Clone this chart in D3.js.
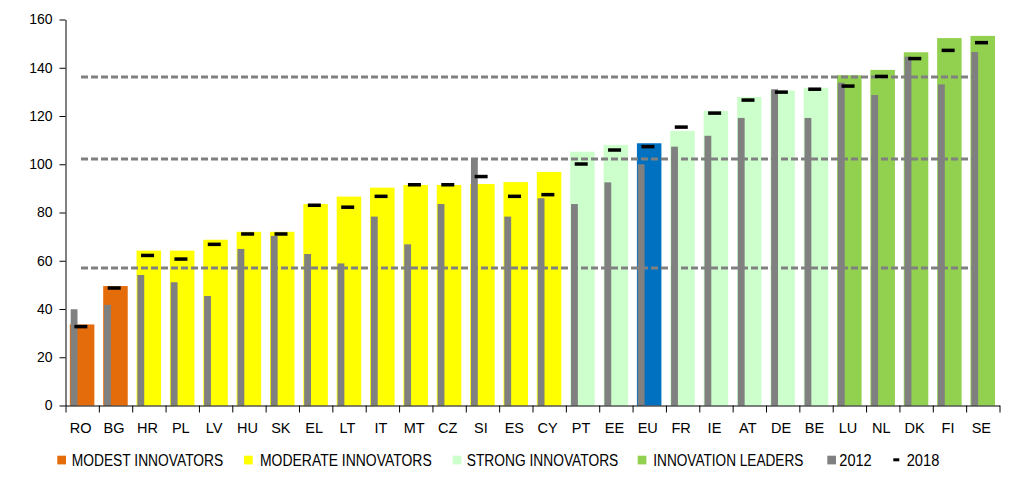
<!DOCTYPE html>
<html>
<head>
<meta charset="utf-8">
<script src="https://cdn.jsdelivr.net/npm/d3@7/dist/d3.min.js"></script>
<style>
  html, body { margin: 0; padding: 0; background: #fff; }
  svg { display: block; font-family: "Liberation Sans", Arial, sans-serif; }
</style>
</head>
<body>
<svg id="chart" width="1014" height="478"></svg>
<script>
// ---- data ----
const categories = ["RO","BG","HR","PL","LV","HU","SK","EL","LT","IT","MT","CZ","SI","ES","CY","PT","EE","EU","FR","IE","AT","DE","BE","LU","NL","DK","FI","SE"];
const groups = ["modest","modest","moderate","moderate","moderate","moderate","moderate","moderate","moderate","moderate","moderate","moderate","moderate","moderate","moderate","strong","strong","eu","strong","strong","strong","strong","strong","leader","leader","leader","leader","leader"];
const performance = [33.6,49.5,64.2,64.2,68.7,72.0,72.0,83.5,86.6,90.3,91.4,91.4,91.8,92.6,96.8,105.2,108.0,108.7,113.8,122.1,127.9,130.5,131.7,136.9,139.1,146.4,152.3,153.2];
const values2012 = [39.9,41.7,54.1,51.1,45.4,64.9,70.3,62.8,58.9,78.3,66.8,83.5,102.2,78.3,85.9,83.5,92.5,100.0,107.3,111.8,119.2,131.1,119.2,133.8,128.7,144.6,133.1,146.5];
const values2018 = [32.7,48.7,62.2,60.7,66.8,71.1,71.1,83.0,82.2,86.7,91.5,91.5,94.9,86.7,87.4,100.1,105.9,107.3,115.4,121.2,126.6,129.9,131.1,132.4,136.4,143.8,147.2,150.4];
const thresholds = [136.2, 102.2, 57.0];
const yTicks = [0,20,40,60,80,100,120,140,160];
const legendLabels = ["MODEST INNOVATORS","MODERATE INNOVATORS","STRONG INNOVATORS","INNOVATION LEADERS","2012","2018"];

// ---- styles ----
const groupColor = { modest: "#E46C0A", moderate: "#FFFF00", strong: "#CCFFCC", leader: "#92D050", eu: "#0070C0" };
const grayColor = "#808080";

const svg = d3.select("#chart");
const pLeft = 65.5, pRight = 999.5, pTop = 19.5, pBottom = 405.5;

const x = d3.scaleBand().domain(categories).range([pLeft, pRight]).paddingInner(0).paddingOuter(0);
const y = d3.scaleLinear().domain([0, 160]).range([pBottom, pTop]);
const bw = x.bandwidth();

const rows = categories.map((c, i) => ({ c, g: groups[i], p: performance[i], v12: values2012[i], v18: values2018[i] }));

// colored bars
svg.append("g").selectAll("rect").data(rows).join("rect")
  .attr("x", d => x(d.c) + 0.13 * bw)
  .attr("width", 0.735 * bw)
  .attr("y", d => y(d.p))
  .attr("height", d => y(0) - y(d.p))
  .attr("fill", d => groupColor[d.g]);

// 2012 gray bars
svg.append("g").selectAll("rect").data(rows).join("rect")
  .attr("x", d => x(d.c) + 0.155 * bw)
  .attr("width", 0.205 * bw)
  .attr("y", d => y(d.v12))
  .attr("height", d => y(0) - y(d.v12))
  .attr("fill", grayColor);

// threshold dashed lines
svg.append("g").selectAll("line").data(thresholds).join("line")
  .attr("x1", 81).attr("x2", 980)
  .attr("y1", d => y(d)).attr("y2", d => y(d))
  .attr("stroke", grayColor).attr("stroke-width", 3)
  .attr("stroke-dasharray", "7,3");

// 2018 dashes
svg.append("g").selectAll("rect").data(rows).join("rect")
  .attr("x", d => x(d.c) + 0.46 * bw - 6.5)
  .attr("width", 13)
  .attr("y", d => y(d.v18) - 1.75)
  .attr("height", 3.5)
  .attr("fill", "#000");

// y axis
const yAxis = svg.append("g").attr("transform", `translate(${pLeft},0)`)
  .call(d3.axisLeft(y).tickValues(yTicks).tickSize(6).tickSizeOuter(0).tickPadding(7));
yAxis.selectAll("text").attr("font-size", 14).attr("fill", "#000").attr("font-family", "Liberation Sans, Arial, sans-serif");
yAxis.selectAll("line, path").attr("stroke", "#000");

// x axis boundary ticks
const idx = d3.scaleLinear().domain([0, categories.length]).range([pLeft, pRight]);
const xTickAxis = svg.append("g").attr("transform", `translate(0,${pBottom})`)
  .call(d3.axisBottom(idx).tickValues(d3.range(0, categories.length + 1)).tickSize(7).tickSizeOuter(0).tickFormat(""));
xTickAxis.selectAll("line, path").attr("stroke", "#000");

// x labels
const xLab = svg.append("g").attr("transform", `translate(0,${pBottom})`)
  .call(d3.axisBottom(x).tickSize(0).tickPadding(17));
xLab.select(".domain").remove();
xLab.selectAll("text").attr("font-size", 14.5).attr("fill", "#000").attr("font-family", "Liberation Sans, Arial, sans-serif")
  .attr("dx", -1.5);

// legend
const legendMarkers = [
  { type: "sq", color: groupColor.modest, mx: 57.3, tx: 71.7, tw: 151.6 },
  { type: "sq", color: groupColor.moderate, mx: 244, tx: 260, tw: 171.7 },
  { type: "sq", color: groupColor.strong, mx: 452.7, tx: 466.7, tw: 151.6 },
  { type: "sq", color: groupColor.leader, mx: 637.7, tx: 653.3, tw: 150 },
  { type: "sq", color: grayColor, mx: 827.3, tx: 839.3, tw: 32.4 },
  { type: "dash", color: "#000", mx: 893.3, tx: 906.7, tw: 32.6 }
];
const lg = svg.append("g");
legendMarkers.forEach((m, i) => {
  if (m.type === "sq") {
    lg.append("rect").attr("x", m.mx).attr("y", 455.7).attr("width", 8.7).attr("height", 8.7).attr("fill", m.color);
  } else {
    lg.append("rect").attr("x", m.mx).attr("y", 458.3).attr("width", 6).attr("height", 3).attr("fill", m.color);
  }
  lg.append("text").attr("x", m.tx).attr("y", 466)
    .attr("font-size", 16).attr("fill", "#000")
    .attr("textLength", m.tw).attr("lengthAdjust", "spacingAndGlyphs")
    .text(legendLabels[i]);
});
</script>
</body>
</html>
